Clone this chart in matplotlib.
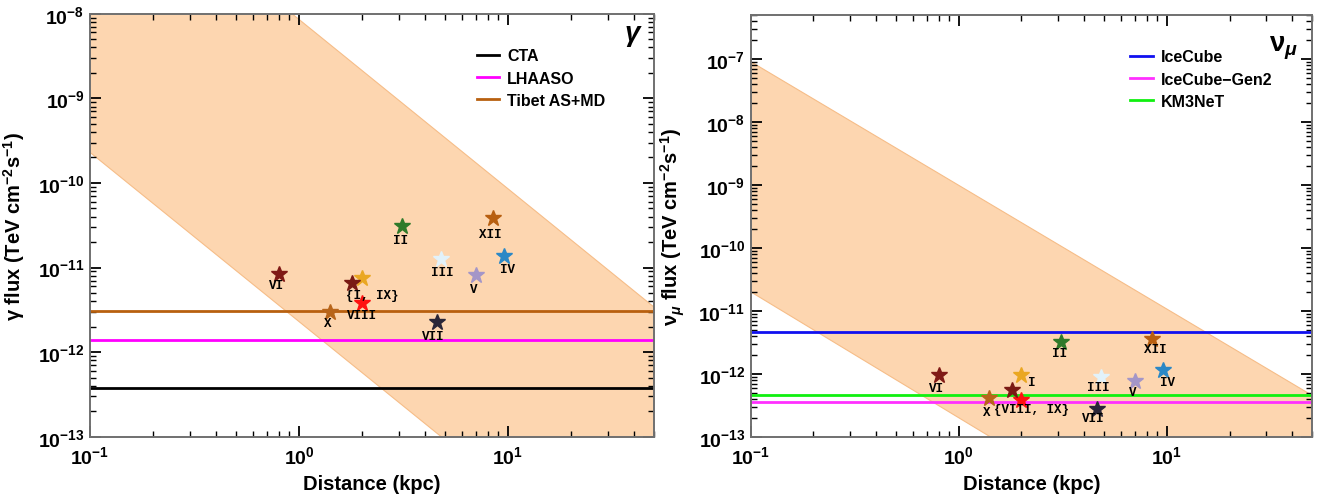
import math
import matplotlib
matplotlib.use("Agg")
import matplotlib.pyplot as plt
from matplotlib.ticker import LogLocator, FuncFormatter, NullFormatter

plt.rcParams['font.family'] = ['Liberation Sans', 'DejaVu Sans']
plt.rcParams['font.weight'] = 'bold'
plt.rcParams['mathtext.fontset'] = 'custom'
plt.rcParams['mathtext.rm'] = 'Liberation Sans:bold'
plt.rcParams['mathtext.bf'] = 'Liberation Sans:bold'
plt.rcParams['mathtext.it'] = 'Liberation Sans:bold:italic'

# sources (distance in kpc, flux in TeV cm^-2 s^-1)
names = ['I', 'II', 'III', 'IV', 'V', 'VI', 'VII', 'VIII', 'IX', 'X', 'XII']
dist = [2.0, 3.1, 4.8, 9.6, 7.0, 0.8, 4.6, 2.0, 1.8, 1.4, 8.5]
gamma_flux = [7.5e-12, 3.1e-11, 1.26e-11, 1.38e-11, 8.2e-12, 8.3e-12,
              2.3e-12, 3.8e-12, 6.5e-12, 2.95e-12, 3.8e-11]
nu_flux = [9.4e-13, 3.2e-12, 8.8e-13, 1.15e-12, 7.8e-13, 9.7e-13,
           2.8e-13, 3.8e-13, 5.5e-13, 4.1e-13, 3.5e-12]
star_colors = ['#eaa722', '#2f7a2a', '#e2f2fa', '#2b88c6', '#a496c8', '#801a16',
               '#2a2638', '#ff1010', '#7a1a14', '#b8651a', '#b85f10']

# point labels, offsets in pixels (None = no label)
gamma_labels = ['{I, IX}', 'II', 'III', 'IV', 'V', 'VI', 'VII', 'VIII', None, 'X', 'XII']
gamma_offsets = [(10, -17), (-1, -14), (1, -13), (3, -13), (-2, -14), (-2, -11),
                 (-4, -14), (0, -12), None, (-2, -11), (-3, -16)]
nu_labels = ['I', 'II', 'III', 'IV', 'V', 'VI', 'VII', '{VIII, IX}', None, 'X', 'XII']
nu_offsets = [(10, -7), (-2, -11), (-2, -10), (4, -12), (-2, -11), (-2, -13),
              (-3, -9), (10, -9), None, (-2, -14), (3, -10)]

# allowed band edges at the x limits
band_x = [0.1, 50]
gamma_band_lo = [2.3e-10, 9.2e-16]
gamma_band_hi = [8.6e-7, 3.4e-12]
nu_band_lo = [2.0e-11, 8.0e-17]
nu_band_hi = [9.0e-8, 4.5e-13]

# sensitivities
gamma_exps = ['CTA', 'LHAASO', 'Tibet AS+MD']
gamma_sens = [3.8e-13, 1.4e-12, 3.1e-12]
gamma_cols = ['black', '#ff00ff', '#b8600f']
nu_exps = ['IceCube', 'IceCube\u2212Gen2', 'KM3NeT']
nu_sens = [4.6e-12, 3.6e-13, 4.6e-13]
nu_cols = ['#1010f0', '#ff30ff', '#10f010']


def style_axes(ax, ylim):
    ax.set_xscale('log')
    ax.set_yscale('log')
    ax.set_xlim(0.1, 50)
    ax.set_ylim(*ylim)
    ax.xaxis.set_major_locator(LogLocator(base=10))
    ax.yaxis.set_major_locator(LogLocator(base=10))
    ax.xaxis.set_minor_locator(LogLocator(base=10, subs=range(2, 10)))
    ax.yaxis.set_minor_locator(LogLocator(base=10, subs=range(2, 10)))
    fmt = FuncFormatter(lambda v, p: r'$\mathrm{10^{%d}}$' % round(math.log10(v)))
    ax.xaxis.set_major_formatter(fmt)
    ax.yaxis.set_major_formatter(fmt)
    ax.xaxis.set_minor_formatter(NullFormatter())
    ax.yaxis.set_minor_formatter(NullFormatter())
    ax.tick_params(which='both', direction='in', top=True, right=True, colors='black',
                   labelsize=14)
    ax.tick_params(which='major', length=8, width=1.3, pad=4)
    ax.tick_params(axis='x', which='major', pad=6)
    ax.tick_params(which='minor', length=4, width=1.0)
    for s in ax.spines.values():
        s.set_color('#707070')
        s.set_linewidth(1.4)
    ax.set_xlabel('Distance (kpc)', fontsize=14.5, fontweight='bold', labelpad=5)


def draw_panel(ax, lo, hi, exps, sens, cols, flux, labels, offsets):
    ax.fill_between(band_x, lo, hi, facecolor='#fdd6b0', edgecolor='#f6bd88',
                    linewidth=0.8, zorder=1)
    for e, s, c in zip(exps, sens, cols):
        ax.axhline(s, color=c, lw=2, label=e, zorder=2)
    for d, f, c in zip(dist, flux, star_colors):
        ax.plot(d, f, marker='*', ms=12, color=c, mec=c, ls='none', zorder=4)
    for d, f, lab, off in zip(dist, flux, labels, offsets):
        if lab is None:
            continue
        ax.annotate(lab, (d, f), xytext=off, textcoords='offset pixels',
                    ha='center', va='center', fontsize=9,
                    family='Liberation Mono', fontweight='bold', zorder=5)


fig = plt.figure(figsize=(13.31, 5.02), dpi=100)
ax1 = fig.add_axes([0.0676, 0.128, 0.4238, 0.8427])
ax2 = fig.add_axes([0.564, 0.128, 0.422, 0.8407])

style_axes(ax1, (1e-13, 1e-8))
draw_panel(ax1, gamma_band_lo, gamma_band_hi, gamma_exps, gamma_sens, gamma_cols,
           gamma_flux, gamma_labels, gamma_offsets)
ax1.set_ylabel(r'$\mathrm{\gamma}$ flux (TeV cm$^{-2}$s$^{-1}$)', fontsize=14.5,
               fontweight='bold', labelpad=8)
ax1.text(0.975, 0.985, '\u03b3', transform=ax1.transAxes, ha='right', va='top',
         fontsize=20, fontweight='bold', fontstyle='italic')
ax1.legend(loc='upper left', bbox_to_anchor=(0.66, 0.952), frameon=False,
           fontsize=11.5, handlelength=1.4, handletextpad=0.5, labelspacing=0.45)

style_axes(ax2, (1e-13, 5e-7))
draw_panel(ax2, nu_band_lo, nu_band_hi, nu_exps, nu_sens, nu_cols,
           nu_flux, nu_labels, nu_offsets)
ax2.set_ylabel(r'$\mathrm{\nu}_{\mathit{\mu}}$ flux (TeV cm$^{-2}$s$^{-1}$)', fontsize=14.5,
               fontweight='bold', labelpad=8)
ax2.text(0.975, 0.955, r'$\mathrm{\nu}_{\mathit{\mu}}$', transform=ax2.transAxes,
         ha='right', va='top', fontsize=20)
ax2.legend(loc='upper left', bbox_to_anchor=(0.65, 0.952), frameon=False,
           fontsize=11.5, handlelength=1.4, handletextpad=0.5, labelspacing=0.45)

fig.savefig('out.png', dpi=100)
